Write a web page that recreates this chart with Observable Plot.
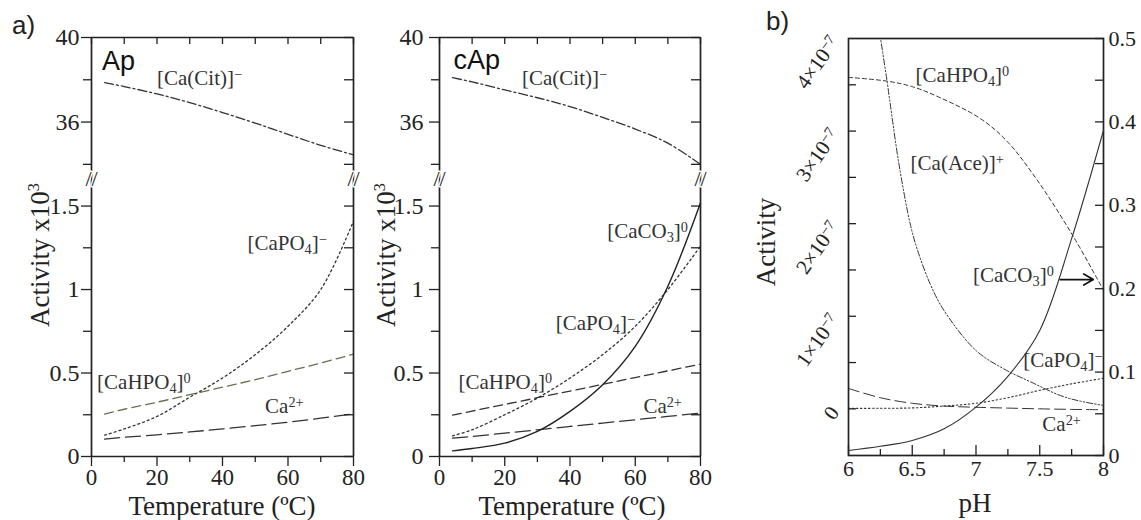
<!DOCTYPE html>
<html><head><meta charset="utf-8">
<script src="https://cdn.jsdelivr.net/npm/d3@7"></script>
<script src="https://cdn.jsdelivr.net/npm/@observablehq/plot@0.6"></script>
<style>
body{margin:0;background:#fff;}
#root{position:relative;width:1141px;height:520px;overflow:hidden;background:#fff;font-family:"Liberation Serif","Times New Roman",serif;color:#222;}
.abs{position:absolute;}
.abs svg{overflow:visible;}
.title{position:absolute;white-space:nowrap;font-size:27px;line-height:27px;transform:translate(-50%,-50%);}
.vtitle{position:absolute;white-space:nowrap;font-size:27px;transform:translate(-50%,-50%) rotate(-90deg);}
.tag{position:absolute;font-family:"Liberation Sans",Arial,sans-serif;font-size:26px;}
</style></head><body><div id="root"></div>
<script>
// ---------- data: panel a (temperature, activity x10^3) ----------
const tempGrid  = [4, 10, 20, 30, 40, 50, 60, 70, 80];
const apCaCit   = [37.87, 37.68, 37.33, 36.92, 36.45, 35.95, 35.42, 34.9, 34.45];
const apCaPO4   = [0.128, 0.165, 0.24, 0.355, 0.47, 0.61, 0.78, 1.0, 1.41];
const apCaHPO4  = [0.254, 0.283, 0.325, 0.37, 0.415, 0.46, 0.51, 0.56, 0.613];
const apCa      = [0.104, 0.115, 0.13, 0.147, 0.165, 0.185, 0.205, 0.23, 0.255];
const capCaCit  = [38.1, 37.9, 37.52, 37.15, 36.73, 36.22, 35.67, 35.0, 34.0];
const capCaCO3  = [0.034, 0.048, 0.08, 0.15, 0.27, 0.43, 0.66, 1.02, 1.52];
const capCaPO4  = [0.124, 0.16, 0.25, 0.35, 0.47, 0.61, 0.78, 1.0, 1.26];
const capCaHPO4 = [0.248, 0.272, 0.312, 0.352, 0.392, 0.432, 0.473, 0.513, 0.553];
const capCa     = [0.11, 0.12, 0.14, 0.16, 0.18, 0.2, 0.22, 0.24, 0.26];
const aUpperTicks = [34, 36, 38, 40];
const aUpperLabels = [36, 40];
const aLowerTicks = [0, 0.25, 0.5, 0.75, 1, 1.25, 1.5];
const aLowerLabels = [0, 0.5, 1, 1.5];
const tempTicks = [0, 10, 20, 30, 40, 50, 60, 70, 80];
const tempLabels = [0, 20, 40, 60, 80];

// ---------- data: panel b (pH; left axis in units of 1e-7, right axis CaCO3) ----------
const phCaHPO4 = [6.0, 6.3, 6.5, 6.72, 7.04, 7.25, 7.48, 7.76, 8.0];
const bCaHPO4  = [3.58, 3.54, 3.48, 3.36, 3.13, 2.88, 2.47, 1.87, 1.28];
const phCaAce  = [6.24, 6.30, 6.395, 6.487, 6.54, 6.64, 6.75, 7.0, 7.22, 7.43, 7.7, 8.0];
const bCaAce   = [4.1, 3.56, 2.65, 1.98, 1.72, 1.35, 1.06, 0.63, 0.43, 0.29, 0.125, 0.036];
const phGrid   = [6.0, 6.25, 6.5, 6.75, 7.0, 7.25, 7.5, 7.75, 8.0];
const bCa      = [0.22, 0.12, 0.06, 0.03, 0.017, 0.008, 0.0, -0.006, -0.01];
const bCaPO4   = [0.005, 0.006, 0.01, 0.03, 0.06, 0.12, 0.2, 0.27, 0.33];
const bCaCO3   = [0.006, 0.011, 0.018, 0.032, 0.058, 0.095, 0.15, 0.26, 0.39];
const caco3Arrow = [{ph1: 7.66, ph2: 7.92, value: 0.211}];
const phTicks  = [6, 6.25, 6.5, 6.75, 7, 7.25, 7.5, 7.75, 8];
const phLabels = [6, 6.5, 7, 7.5, 8];
const leftTicks = [0, 0.5, 1, 1.5, 2, 2.5, 3, 3.5];
const leftLabels = [0, 1, 2, 3, 4];
const rightTicks = [0, 0.05, 0.1, 0.15, 0.2, 0.25, 0.3, 0.35, 0.4, 0.45, 0.5];
const rightLabels = [0, 0.1, 0.2, 0.3, 0.4, 0.5];

// ---------- helpers ----------
const ink = "#222";
const serif = "'Liberation Serif','Times New Roman',serif";
const cols = (xs, ys) => xs.map((x, i) => ({x, y: ys[i]}));
const fmt = d => String(+(+d).toFixed(2));
const none = () => "";
const root = document.getElementById("root");
const SUP = {"⁰":"0","¹":"1","²":"2","³":"3","⁴":"4","⁵":"5","⁶":"6","⁷":"7","⁸":"8","⁹":"9","⁺":"+","⁻":"−"};
const SUB = {"₀":"0","₁":"1","₂":"2","₃":"3","₄":"4","₅":"5","₆":"6","₇":"7","₈":"8","₉":"9"};
function richify(svg) {
  svg.querySelectorAll("text").forEach(t => {
    if (t.querySelector("tspan")) return;
    const s = t.textContent;
    if (![...s].some(c => SUP[c] || SUB[c])) return;
    const runs = [];
    for (const c of s) {
      const kind = SUP[c] ? "sup" : SUB[c] ? "sub" : "n";
      const ch = SUP[c] || SUB[c] || c;
      if (runs.length && runs[runs.length - 1].kind === kind) runs[runs.length - 1].s += ch;
      else runs.push({kind, s: ch});
    }
    t.textContent = "";
    for (const r of runs) {
      const ts = document.createElementNS("http://www.w3.org/2000/svg", "tspan");
      ts.textContent = r.s;
      if (r.kind !== "n") {
        ts.style.fontSize = "0.68em";
        ts.setAttribute("baseline-shift", r.kind === "sup" ? "45%" : "-25%");
      }
      t.appendChild(ts);
    }
  });
}
function place(node, left, top) {
  richify(node);
  const w = document.createElement("div");
  w.className = "abs"; w.style.left = left + "px"; w.style.top = top + "px";
  w.appendChild(node); root.appendChild(w);
}
function html(cls, text, x, y) {
  const d = document.createElement("div");
  d.className = cls; d.innerHTML = text; d.style.left = x + "px"; d.style.top = y + "px";
  root.appendChild(d);
}
const baseStyle = {fontFamily: serif, fontSize: "24px", color: ink, background: "transparent", overflow: "visible"};
const lineOpt = (extra) => ({x: "x", y: "y", stroke: "#333", strokeWidth: 1.3, curve: "catmull-rom", ...extra});
const label = (x, y, t, extra = {}) => Plot.text([{x, y, t}], {x: "x", y: "y", text: "t", fontSize: 21, fill: "#333", textAnchor: "start", fontFamily: serif, ...extra});

const dashCit = "9,3,2,3", dashPO4 = "2,3", dashHPO4 = "9,5", dashCa = "15,6";
const breakMark = (anchor) => Plot.text(["//"], {frameAnchor: anchor, text: d => d, textAnchor: "middle", lineAnchor: "middle", fontSize: 22, fill: ink, stroke: "white", strokeWidth: 3, fontFamily: serif});

// ---------- panel a ----------
function panelA(cfg) {
  const frameW = cfg.frameW, ml = cfg.ml, mr = 14, width = ml + frameW + mr;
  const upper = Plot.plot({
    width, height: 178, marginLeft: ml, marginRight: mr, marginTop: 37, marginBottom: 0,
    x: {domain: [0, 80]}, y: {domain: [33.33, 40]}, style: baseStyle,
    marks: [
      Plot.line(cols(tempGrid, cfg.cit), lineOpt({strokeDasharray: dashCit})),
      Plot.text([cfg.name], {x: () => cfg.nameX, y: () => cfg.nameY, text: d => d, fontFamily: "'Liberation Sans',Arial,sans-serif", fontSize: 27, fill: "#111", textAnchor: "start"}),
      label(cfg.citX, 38.05, "[Ca(Cit)]⁻"),
      Plot.ruleX([0, 80], {stroke: ink, strokeWidth: 1.7}),
      Plot.ruleY([40], {stroke: ink, strokeWidth: 1.7}),
      Plot.axisY({anchor: "left", ticks: aUpperLabels, tickSize: 10, tickPadding: cfg.pad, tickFormat: fmt, label: null, fontSize: 24, strokeWidth: 1.3}),
      Plot.axisY({anchor: "left", ticks: [34, 38], tickSize: 8, tickFormat: none, label: null, strokeWidth: 1.3}),
      Plot.axisY({anchor: "right", ticks: aUpperTicks, tickSize: 10, insetRight: 10, tickFormat: none, label: null, strokeWidth: 1.3}),
      Plot.axisX({anchor: "top", ticks: tempTicks, tickSize: 6, insetTop: 6, tickFormat: none, label: null, strokeWidth: 1.3})
    ]
  });
  place(upper, cfg.left, 0);
  const lowerMarks = [
    Plot.line(cols(tempGrid, cfg.ca), lineOpt({strokeDasharray: dashCa})),
    Plot.line(cols(tempGrid, cfg.hpo4), lineOpt({strokeDasharray: dashHPO4, stroke: cfg.hpo4Color})),
    Plot.line(cols(tempGrid, cfg.po4), lineOpt({strokeDasharray: dashPO4})),
  ];
  if (cfg.co3) lowerMarks.push(Plot.line(cols(tempGrid, cfg.co3), lineOpt({strokeWidth: 1.4, stroke: "#222"})));
  const lower = Plot.plot({
    width, height: 338, marginLeft: ml, marginRight: mr, marginTop: 0, marginBottom: 60,
    x: {domain: [0, 80]}, y: {domain: [0, 1.665]}, style: baseStyle,
    marks: [
      ...lowerMarks,
      ...cfg.labels.map(([x, y, t]) => label(x, y, t)),
      Plot.ruleX([0, 80], {stroke: ink, strokeWidth: 1.7}),
      Plot.ruleY([0], {stroke: ink, strokeWidth: 1.7}),
      Plot.axisY({anchor: "left", ticks: aLowerLabels, tickSize: 10, tickPadding: cfg.pad, tickFormat: fmt, label: null, fontSize: 24, strokeWidth: 1.3}),
      Plot.axisY({anchor: "left", ticks: [0.25, 0.75, 1.25], tickSize: 8, tickFormat: none, label: null, strokeWidth: 1.3}),
      Plot.axisY({anchor: "right", ticks: aLowerTicks, tickSize: 10, insetRight: 10, tickFormat: none, label: null, strokeWidth: 1.3}),
      Plot.axisX({anchor: "bottom", ticks: tempLabels, tickSize: 10, tickPadding: 2, tickFormat: fmt, label: null, fontSize: 23, strokeWidth: 1.3}),
      Plot.axisX({anchor: "bottom", ticks: [10, 30, 50, 70], tickSize: 6, tickFormat: none, label: null, strokeWidth: 1.3}),
      breakMark("top-left"), breakMark("top-right")
    ]
  });
  place(lower, cfg.left, 178);
}

panelA({
  left: 0, ml: 91, frameW: 262, pad: 2, name: "Ap", nameX: 3.2, nameY: 38.85, citX: 20,
  cit: apCaCit, po4: apCaPO4, hpo4: apCaHPO4, ca: apCa, hpo4Color: "#6e6d50",
  labels: [[47.6, 1.28, "[CaPO₄]⁻"], [1.7, 0.447, "[CaHPO₄]⁰"], [53, 0.30, "Ca²⁺"]]
});
panelA({
  left: 350, ml: 89, frameW: 261, pad: 6, name: "cAp", nameX: 4.3, nameY: 38.92, citX: 25.3,
  cit: capCaCit, po4: capCaPO4, hpo4: capCaHPO4, ca: capCa, co3: capCaCO3, hpo4Color: "#333",
  labels: [[51.4, 1.35, "[CaCO₃]⁰"], [35.6, 0.80, "[CaPO₄]⁻"], [5.8, 0.447, "[CaHPO₄]⁰"], [62.5, 0.30, "Ca²⁺"]]
});

// ---------- panel b ----------
const bDims = {width: 371, height: 500, marginLeft: 78, marginRight: 38, marginTop: 38, marginBottom: 45};
const leftFmt = d => d === 0 ? "0" : `${d}×10⁻⁷`;
const bLeft = Plot.plot({
  ...bDims, x: {domain: [6, 8]}, y: {domain: [-0.504, 4]}, style: {...baseStyle, fontSize: "22px"},
  marks: [
    Plot.line(cols(phCaAce, bCaAce), lineOpt({strokeDasharray: "6,2,1.5,2,1.5,2", strokeWidth: 1, clip: true})),
    Plot.line(cols(phCaHPO4, bCaHPO4), lineOpt({strokeDasharray: "4,3", strokeWidth: 1})),
    Plot.line(cols(phGrid, bCa), lineOpt({strokeDasharray: "11,5", strokeWidth: 1})),
    Plot.line(cols(phGrid, bCaPO4), lineOpt({strokeDasharray: "1.5,2.5", strokeWidth: 1.1})),
    label(6.526, 3.6, "[CaHPO₄]⁰"),
    label(6.487, 2.65, "[Ca(Ace)]⁺"),
    label(7.37, 0.52, "[CaPO₄]⁻"),
    label(7.52, -0.17, "Ca²⁺"),
    Plot.frame({stroke: ink, strokeWidth: 1.7}),
    Plot.axisY({anchor: "left", ticks: leftTicks, tickSize: 8, insetLeft: 8, tickFormat: none, label: null, strokeWidth: 1.3}),
    Plot.axisY({anchor: "left", ticks: leftLabels, tickSize: 0, tickPadding: 14, tickRotate: -55, tickFormat: leftFmt, label: null, fontSize: 21}),
    Plot.axisX({anchor: "bottom", ticks: phLabels, tickSize: 10, insetBottom: 10, tickPadding: 5, tickFormat: fmt, label: null, fontSize: 22, strokeWidth: 1.3}),
    Plot.axisX({anchor: "bottom", ticks: [6.25, 6.75, 7.25, 7.75], tickSize: 6, insetBottom: 6, tickFormat: none, label: null, strokeWidth: 1.3})
  ]
});
place(bLeft, 770, 0);
const bRight = Plot.plot({
  ...bDims, x: {domain: [6, 8], axis: null}, y: {domain: [0, 0.5]}, style: {...baseStyle, fontSize: "22px"},
  marks: [
    Plot.line(cols(phGrid, bCaCO3), lineOpt({strokeWidth: 1.1})),
    Plot.arrow(caco3Arrow, {x1: "ph1", x2: "ph2", y1: "value", y2: "value", stroke: "#111", strokeWidth: 1.7, headLength: 11}),
    label(7.61, 0.2156, "[CaCO₃]⁰", {textAnchor: "end"}),
    Plot.axisY({anchor: "right", ticks: rightTicks, tickSize: 9, insetRight: 9, tickFormat: none, label: null, strokeWidth: 1.3}),
    Plot.axisY({anchor: "right", ticks: rightLabels, tickSize: 0, tickPadding: 5, tickFormat: fmt, label: null, fontSize: 22})
  ]
});
place(bRight, 770, 0);

// ---------- titles ----------
html("tag", "a)", 12, 10);
html("tag", "b)", 766, 6);
html("vtitle", "Activity x10<sup style='font-size:60%'>3</sup>", 40, 255);
html("vtitle", "Activity x10<sup style='font-size:60%'>3</sup>", 386, 255);
html("vtitle", "Activity", 766, 242);
html("title", "Temperature (ºC)", 222, 506);
html("title", "Temperature (ºC)", 572, 506);
html("title", "pH", 975, 503);
</script>
</body></html>
